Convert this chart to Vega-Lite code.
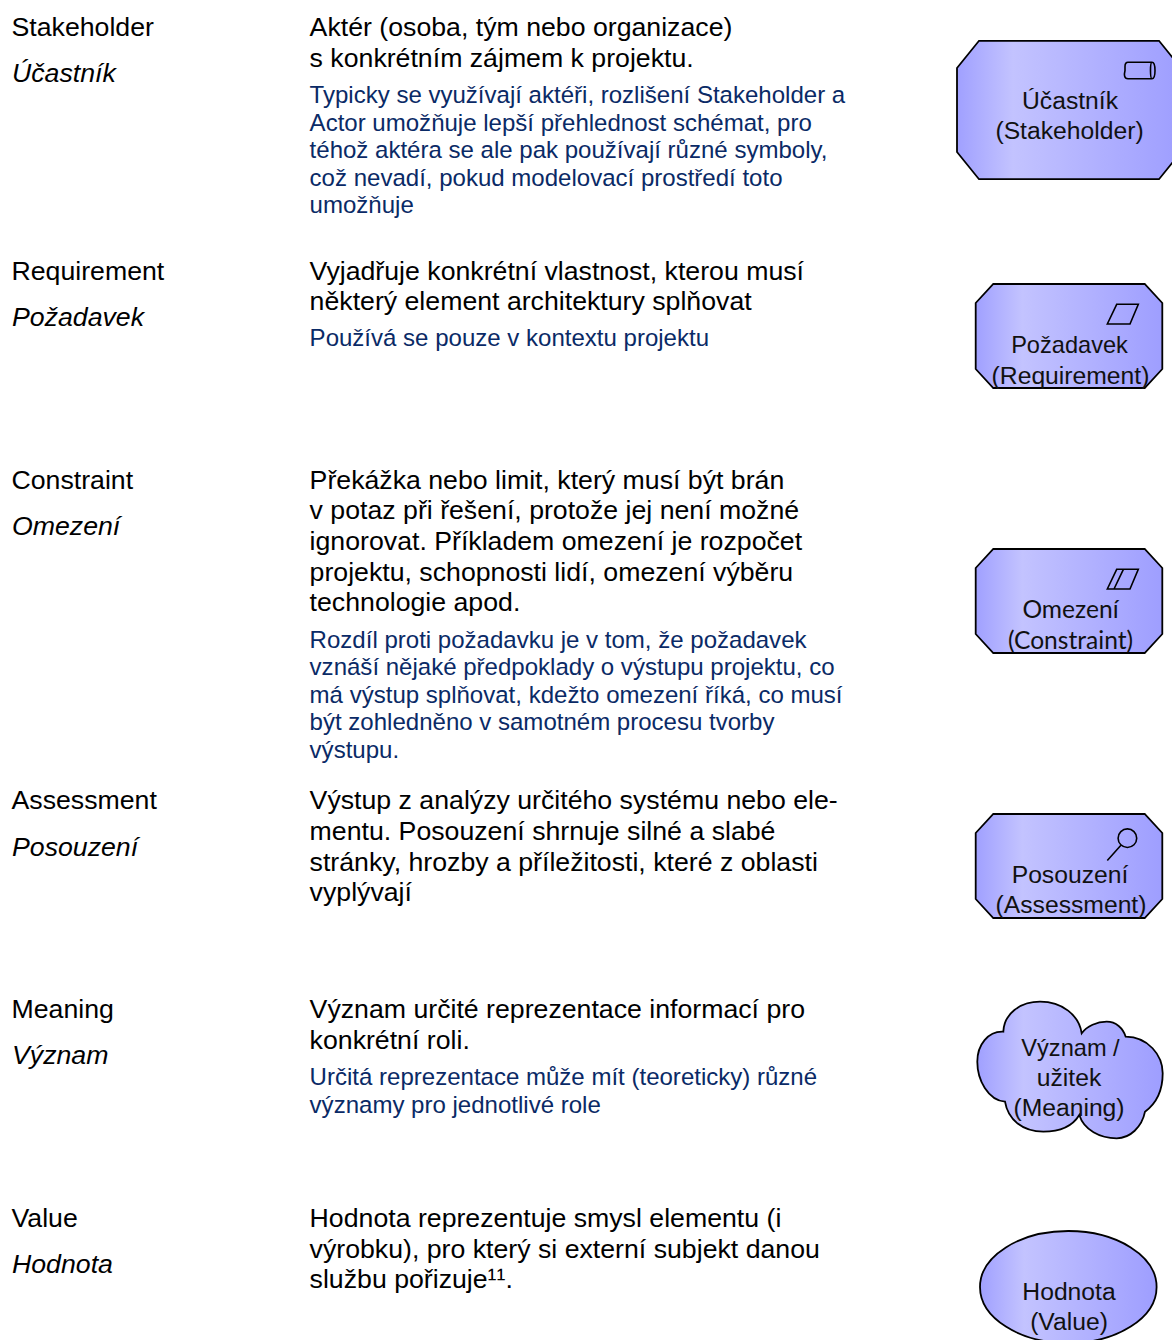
{
"$schema":"https://vega.github.io/schema/vega-lite/v6.json",
"width":1172,"height":1340,"padding":0,
"autosize":{"type":"none"},
"background":"white",
"config":{"view":{"stroke":null}},
"resolve":{"scale":{"shape":"independent"}},
"datasets":{
"terms":[{"x":11.5,"y":36,"t":"Stakeholder"},{"x":11.5,"y":280,"t":"Requirement"},{"x":11.5,"y":489,"t":"Constraint"},{"x":11.5,"y":809,"t":"Assessment"},{"x":11.5,"y":1018,"t":"Meaning"},{"x":11.5,"y":1227,"t":"Value"}],
"names":[{"x":12,"y":82,"t":"Účastník"},{"x":12,"y":326,"t":"Požadavek"},{"x":12,"y":535,"t":"Omezení"},{"x":12,"y":856,"t":"Posouzení"},{"x":12,"y":1064,"t":"Význam"},{"x":12,"y":1273,"t":"Hodnota"}],
"body":[
{"x":309.6,"y":36,"t":"Aktér (osoba, tým nebo organizace)"},
{"x":309.6,"y":67,"t":"s konkrétním zájmem k projektu."},
{"x":309.6,"y":280,"t":"Vyjadřuje konkrétní vlastnost, kterou musí"},
{"x":309.6,"y":310,"t":"některý element architektury splňovat"},
{"x":309.6,"y":489,"t":"Překážka nebo limit, který musí být brán"},
{"x":309.6,"y":519,"t":"v potaz při řešení, protože jej není možné"},
{"x":309.6,"y":550,"t":"ignorovat. Příkladem omezení je rozpočet"},
{"x":309.6,"y":581,"t":"projektu, schopnosti lidí, omezení výběru"},
{"x":309.6,"y":611,"t":"technologie apod."},
{"x":309.6,"y":809,"t":"Výstup z analýzy určitého systému nebo ele-"},
{"x":309.6,"y":840,"t":"mentu. Posouzení shrnuje silné a slabé"},
{"x":309.6,"y":871,"t":"stránky, hrozby a příležitosti, které z oblasti"},
{"x":309.6,"y":901,"t":"vyplývají"},
{"x":309.6,"y":1018,"t":"Význam určité reprezentace informací pro"},
{"x":309.6,"y":1049,"t":"konkrétní roli."},
{"x":309.6,"y":1227,"t":"Hodnota reprezentuje smysl elementu (i"},
{"x":309.6,"y":1258,"t":"výrobku), pro který si externí subjekt danou"},
{"x":309.6,"y":1288,"t":"službu pořizuje¹¹."}
],
"notes":[
{"x":309.6,"y":103,"t":"Typicky se využívají aktéři, rozlišení Stakeholder a"},
{"x":309.6,"y":131,"t":"Actor umožňuje lepší přehlednost schémat, pro"},
{"x":309.6,"y":158,"t":"téhož aktéra se ale pak používají různé symboly,"},
{"x":309.6,"y":186,"t":"což nevadí, pokud modelovací prostředí toto"},
{"x":309.6,"y":213,"t":"umožňuje"},
{"x":309.6,"y":346,"t":"Používá se pouze v kontextu projektu"},
{"x":309.6,"y":648,"t":"Rozdíl proti požadavku je v tom, že požadavek"},
{"x":309.6,"y":675,"t":"vznáší nějaké předpoklady o výstupu projektu, co"},
{"x":309.6,"y":703,"t":"má výstup splňovat, kdežto omezení říká, co musí"},
{"x":309.6,"y":730,"t":"být zohledněno v samotném procesu tvorby"},
{"x":309.6,"y":758,"t":"výstupu."},
{"x":309.6,"y":1085,"t":"Určitá reprezentace může mít (teoreticky) různé"},
{"x":309.6,"y":1113,"t":"významy pro jednotlivé role"}
],
"shapes":[
{"x":1069,"y":110,"k":"large"},
{"x":1069,"y":336,"k":"small"},
{"x":1069,"y":601,"k":"small"},
{"x":1069,"y":866,"k":"small"},
{"x":1070,"y":1070,"k":"cloud"},
{"x":1068.3,"y":1287,"k":"ellipse"}
],
"icons":[
{"x":1140,"y":70.5,"k":"actor"},
{"x":1123,"y":314,"k":"req"},
{"x":1123,"y":579,"k":"con"},
{"x":1120,"y":849.5,"k":"ass"}
],
"labels":[
{"x":1070,"y":109,"t":"Účastník"},
{"x":1069.5,"y":139,"t":"(Stakeholder)"},
{"x":1070.5,"y":384,"t":"(Requirement)"},
{"x":1070,"y":883,"t":"Posouzení"},
{"x":1071,"y":913,"t":"(Assessment)"},
{"x":1069,"y":1086,"t":"užitek"},
{"x":1069,"y":1116,"t":"(Meaning)"},
{"x":1069,"y":1300,"t":"Hodnota"},
{"x":1069,"y":1330,"t":"(Value)"}
],
"labelsTight":[
{"x":1069.5,"y":353,"t":"Požadavek"},
{"x":1070.5,"y":1056,"t":"Význam /"}
],
"labels2":[
{"x":1070.5,"y":618,"t":"Omezení"},
{"x":1070.5,"y":649,"t":"(Constraint)"}
]
},
"encoding":{
"x":{"field":"x","type":"quantitative","axis":null,"scale":{"domain":[0,1172],"nice":false,"zero":false}},
"y":{"field":"y","type":"quantitative","axis":null,"scale":{"domain":[0,1340],"reverse":true,"nice":false,"zero":false}}
},
"layer":[
{"data":{"name":"terms"},"mark":{"type":"text","align":"left","baseline":"alphabetic","font":"Liberation Sans","fontSize":26.7,"color":"#000000"},"encoding":{"text":{"field":"t"}}},
{"data":{"name":"names"},"mark":{"type":"text","align":"left","baseline":"alphabetic","font":"Liberation Sans","fontSize":26.7,"fontStyle":"italic","color":"#000000"},"encoding":{"text":{"field":"t"}}},
{"data":{"name":"body"},"mark":{"type":"text","align":"left","baseline":"alphabetic","font":"Liberation Sans","fontSize":26.7,"color":"#000000"},"encoding":{"text":{"field":"t"}}},
{"data":{"name":"notes"},"mark":{"type":"text","align":"left","baseline":"alphabetic","font":"Liberation Sans","fontSize":24.04,"color":"#0a2a66"},"encoding":{"text":{"field":"t"}}},
{"data":{"name":"shapes"},"mark":{"type":"point","filled":true,"opacity":1,"stroke":"#000000","strokeWidth":1.8,"fill":{"gradient":"linear","x1":0,"y1":0,"x2":1,"y2":0,"stops":[{"offset":0,"color":"#a0a0ff"},{"offset":0.25,"color":"#c3c3ff"},{"offset":1,"color":"#9e9eff"}]}},
 "encoding":{"size":{"value":40000},"shape":{"field":"k","type":"nominal","legend":null,"scale":{"domain":["large","small","cloud","ellipse"],"range":[
 "M-0.9,-0.692 L0.9,-0.692 L1.12,-0.42 L1.12,0.42 L0.9,0.692 L-0.9,0.692 L-1.12,0.42 L-1.12,-0.42 Z",
 "M-0.757,-0.52 L0.757,-0.52 L0.933,-0.33 L0.933,0.33 L0.757,0.52 L-0.757,0.52 L-0.933,0.33 L-0.933,-0.33 Z",
 "M-0.667,-0.383 C-0.66,-0.56 -0.5,-0.683 -0.3,-0.683 C-0.08,-0.683 0.09,-0.55 0.117,-0.367 C0.17,-0.44 0.27,-0.483 0.367,-0.483 C0.46,-0.483 0.53,-0.42 0.557,-0.333 C0.78,-0.33 0.927,-0.15 0.927,0.033 C0.927,0.2 0.87,0.33 0.75,0.417 C0.72,0.57 0.6,0.683 0.467,0.683 C0.3,0.683 0.14,0.6 0.093,0.45 C0.02,0.57 -0.12,0.617 -0.267,0.617 C-0.47,0.617 -0.62,0.5 -0.65,0.317 C-0.82,0.3 -0.927,0.1 -0.927,-0.083 C-0.927,-0.25 -0.82,-0.39 -0.667,-0.383 Z",
 "M-0.883,0 A0.883,0.56 0 1 1 0.883,0 A0.883,0.56 0 1 1 -0.883,0 Z"
 ]}}}},
{"data":{"name":"icons"},"mark":{"type":"point","filled":false,"opacity":1,"stroke":"#000000","strokeWidth":1.6},
 "encoding":{"size":{"value":40000},"shape":{"field":"k","type":"nominal","legend":null,"scale":{"domain":["actor","req","con","ass"],"range":[
 "M-0.12,-0.083 L0.12,-0.083 C0.16,-0.083 0.16,0.083 0.12,0.083 L-0.12,0.083 C-0.16,0.083 -0.16,0.04 -0.15,0 L-0.15,-0.04 C-0.15,-0.07 -0.14,-0.083 -0.12,-0.083 Z M0.12,-0.083 C0.1,-0.083 0.1,0.083 0.12,0.083",
 "M-0.157,0.1 L-0.063,-0.097 L0.153,-0.097 L0.07,0.1 Z",
 "M-0.157,0.1 L-0.063,-0.097 L0.153,-0.097 L0.07,0.1 Z M-0.09,0.1 L0.004,-0.097",
 "M-0.127,0.11 L0.007,-0.04 M0.167,-0.113 A0.093,0.093 0 1 1 -0.019,-0.113 A0.093,0.093 0 1 1 0.167,-0.113 Z"
 ]}}}},
{"data":{"name":"labels"},"mark":{"type":"text","align":"center","baseline":"alphabetic","font":"Liberation Sans","fontSize":24.7,"color":"#111111"},"encoding":{"text":{"field":"t"}}},
{"data":{"name":"labelsTight"},"mark":{"type":"text","align":"center","baseline":"alphabetic","font":"Liberation Sans","fontSize":23.6,"color":"#111111"},"encoding":{"text":{"field":"t"}}},
{"data":{"name":"labels2"},"mark":{"type":"text","align":"center","baseline":"alphabetic","font":"Lato","fontSize":24.6,"color":"#111111"},"encoding":{"text":{"field":"t"}}}
]
}
